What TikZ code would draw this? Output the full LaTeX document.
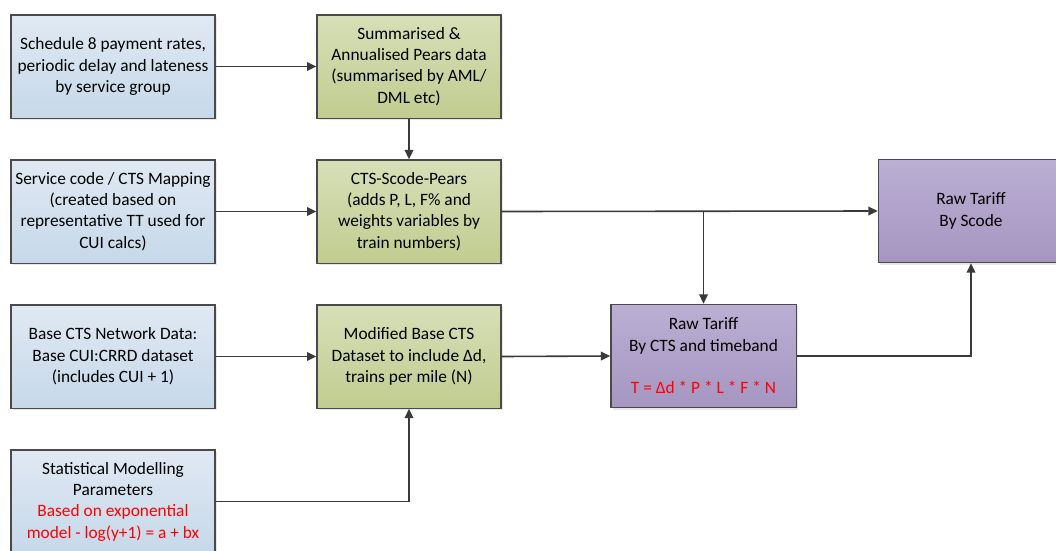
\documentclass[tikz,border=0pt]{standalone}
\usepackage{fontspec}
\setmainfont{Carlito}
\usetikzlibrary{arrows.meta,shadows}
\definecolor{bluetop}{HTML}{E0E9F3}
\definecolor{bluebot}{HTML}{C6D8E9}
\definecolor{greentop}{HTML}{D7DFB7}
\definecolor{greenbot}{HTML}{C1CC90}
\definecolor{purptop}{HTML}{BBAFD3}
\definecolor{purpbot}{HTML}{A596C1}
\definecolor{edgec}{HTML}{4A4A4A}
\definecolor{linec}{HTML}{3A3A3A}
\definecolor{redtxt}{HTML}{FF0000}
\begin{document}
\begin{tikzpicture}[x=0.75pt,y=-0.75pt,
  box/.style={draw=edgec, line width=1pt, minimum height=77.5pt, align=center,
    inner sep=2pt, font=\fontsize{13}{16}\selectfont,
    drop shadow={opacity=0.18, shadow xshift=1.5pt, shadow yshift=-1.5pt}},
  bluebox/.style={box, minimum width=153pt, top color=bluetop, bottom color=bluebot},
  greenbox/.style={box, minimum width=138pt, top color=greentop, bottom color=greenbot},
  purpbox/.style={box, minimum width=139pt, top color=purptop, bottom color=purpbot},
  arr/.style={draw=linec, line width=1.2pt, -{Triangle[length=7pt,width=6.5pt]}}]
\useasboundingbox (0,0) rectangle (1056,550);
\clip (0,0) rectangle (1056,550);
\fill[white] (0,0) rectangle (1056,550);

\node[bluebox] (a) at (113,66.5) {Schedule 8 payment rates,\\periodic delay and lateness\\by service group};
\node[greenbox] (b) at (409,66.5) {Summarised \&\\Annualised Pears data\\(summarised by AML/\\DML etc)};
\node[bluebox] (c) at (113,211.5) {Service code / CTS Mapping\\(created based on\\representative TT used for\\CUI calcs)};
\node[greenbox] (d) at (409,211.5) {CTS-Scode-Pears\\(adds P, L, F\% and\\weights variables by\\train numbers)};
\node[bluebox] (e) at (113,356.5) {Base CTS Network Data:\\Base CUI:CRRD dataset\\(includes CUI + 1)};
\node[greenbox] (f) at (409,356.5) {Modified Base CTS\\Dataset to include Δd,\\trains per mile (N)};
\node[bluebox] (g) at (113,501.5) {Statistical Modelling\\Parameters\\\textcolor{redtxt}{Based on exponential}\\\textcolor{redtxt}{model - log(y+1) = a + bx}};
\node[purpbox] (h) at (703.5,356) {Raw Tariff\\By CTS and timeband\\[16pt]\textcolor{redtxt}{T = Δd * P * L * F * N}};
\node[purpbox] (i) at (971,211) {Raw Tariff\\By Scode};

\draw[arr] (a) -- (b);
\draw[arr] (b) -- (d);
\draw[arr] (c) -- (d);
\draw[arr] (d.east) -- (i.west);
\draw[arr] (d.east -| h.north) -- (h.north);
\draw[arr] (e) -- (f);
\draw[arr] (f.east) -- (h.west);
\draw[arr] (g.east) -| (f.south);
\draw[arr] (h.east) -| (i.south);
\end{tikzpicture}
\end{document}
